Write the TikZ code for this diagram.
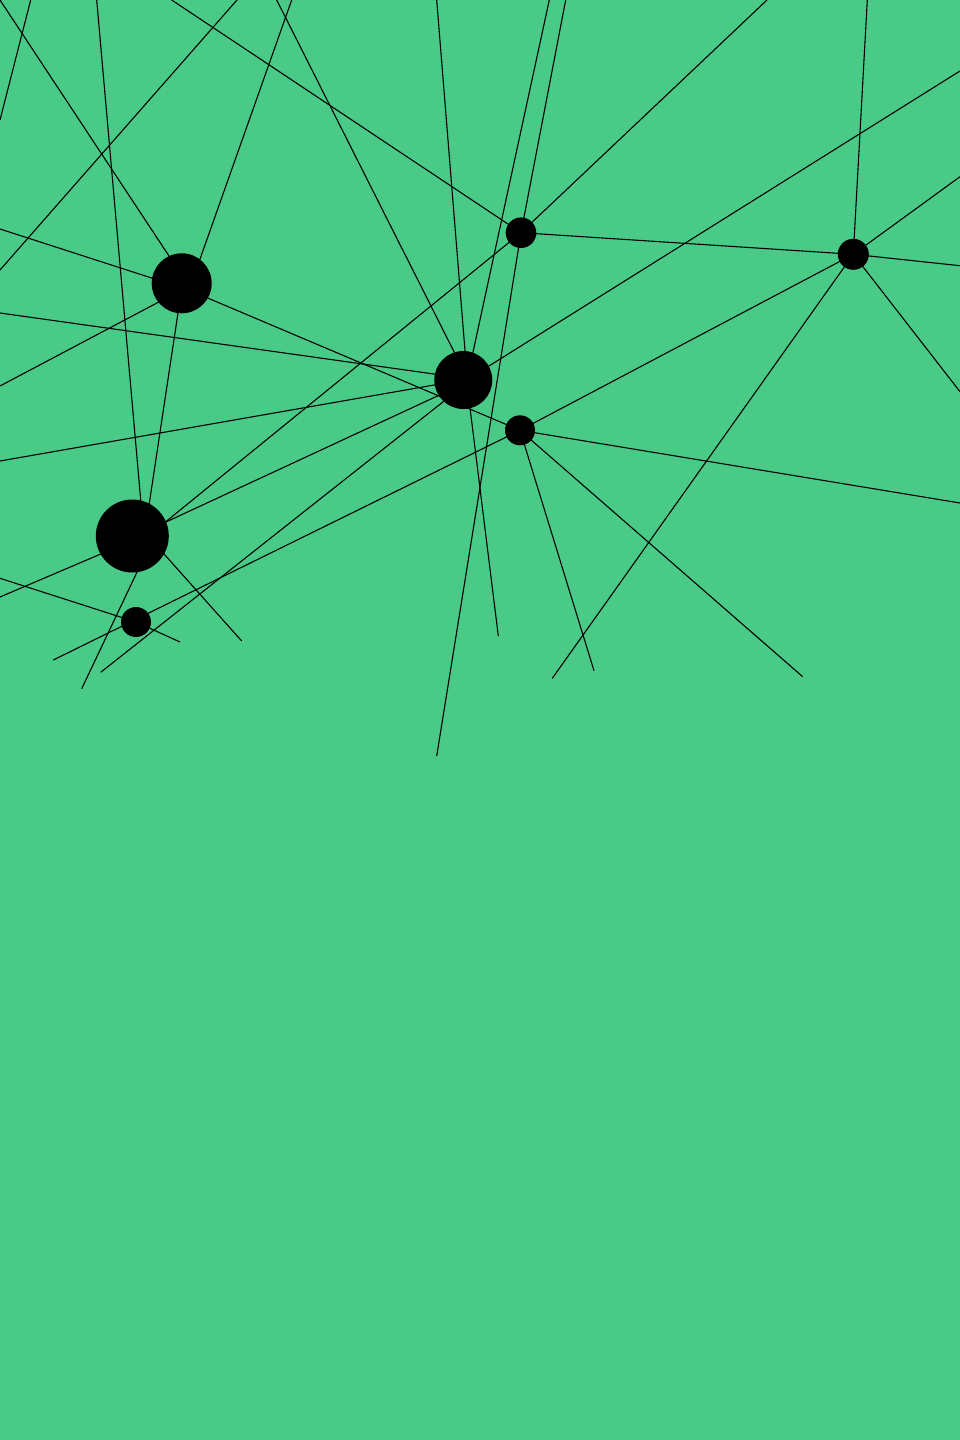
\documentclass[tikz,border=0pt]{standalone}
\definecolor{bg}{RGB}{74,202,135}
\tikzset{
  link/.style={draw=black, line width=1.1pt},
  hub/.style={circle, fill=black, inner sep=0pt, minimum size=#1},
}
\begin{document}
\begin{tikzpicture}[x=1pt,y=-1pt]
\fill[bg] (0,0) rectangle (960,1440);
\useasboundingbox (0,0) rectangle (960,1440);
% hub centres
\coordinate (a) at (181.7,283.3);
\coordinate (b) at (463.3,380);
\coordinate (c) at (521,232.7);
\coordinate (d) at (853.3,254.3);
\coordinate (e) at (520,430.3);
\coordinate (f) at (132.3,536);
\coordinate (g) at (136,622);
% attachment points inside the large hubs
\coordinate (a1) at (174.5,264.3);
\coordinate (a2) at (196.7,268.4);
\coordinate (a3) at (161.2,281.1);
\coordinate (a4) at (165.8,298.3);
\coordinate (a5) at (179.2,305);
\coordinate (a6) at (200.8,295.1);
\coordinate (b1) at (458.5,360.6);
\coordinate (b2) at (465.8,360.7);
\coordinate (b3) at (470.9,361.8);
\coordinate (b4) at (480.5,371.3);
\coordinate (b5) at (443.9,375.4);
\coordinate (b6) at (443.8,383.3);
\coordinate (b7) at (468.8,398.1);
\coordinate (b8) at (446.4,391.8);
\coordinate (b9) at (451.1,395.5);
\coordinate (f1) at (141.6,510);
\coordinate (f2) at (147.8,513.3);
\coordinate (f3) at (158.9,527.3);
\coordinate (f4) at (157.6,525.9);
\coordinate (f5) at (109.2,550.4);
\coordinate (f6) at (157.6,546.8);
\coordinate (f7) at (141,563.7);
% free ends
\coordinate (t1) at (30.7,0);   \coordinate (l1) at (0,120);
\coordinate (t2) at (0,0);
\coordinate (t3) at (96.7,0);
\coordinate (t4) at (237,0);    \coordinate (l4) at (0,270);
\coordinate (t5) at (291.7,0);
\coordinate (t6) at (171.7,0);
\coordinate (t7) at (276.7,0);
\coordinate (t8) at (436.7,0);
\coordinate (t9) at (549.3,0);
\coordinate (t10) at (565.7,0);
\coordinate (t11) at (767,0);
\coordinate (t12) at (867.3,0);
\coordinate (r1) at (960,71);
\coordinate (r2) at (960,176.7);
\coordinate (r3) at (960,265.7);
\coordinate (r4) at (960,391.7);
\coordinate (r5) at (960,503);
\coordinate (l2) at (0,229);
\coordinate (l3) at (0,313);
\coordinate (l5) at (0,386);
\coordinate (l6) at (0,461);
\coordinate (l7) at (0,578.3);
\coordinate (l8) at (0,597);
\coordinate (u1) at (552.3,678.3);
\coordinate (u2) at (802.7,676.7);
\coordinate (u3) at (594,670.7);
\coordinate (u4) at (498.3,636);
\coordinate (u5) at (100.7,672.3);
\coordinate (u6) at (53.3,660);
\coordinate (u7) at (241.7,641);
\coordinate (u8) at (81.7,688.7);
\coordinate (u9) at (180,642);
\coordinate (u10) at (436.7,756);
% connectors
\draw[link] (t1) -- (l1);
\draw[link] (t2) -- (a1);
\draw[link] (t3) -- (f1);
\draw[link] (t4) -- (l4);
\draw[link] (t5) -- (a2);
\draw[link] (t6) -- (c);
\draw[link] (t7) -- (b1);
\draw[link] (t8) -- (b2);
\draw[link] (t9) -- (b3);
\draw[link] (t10) -- (c);
\draw[link] (t11) -- (c);
\draw[link] (t12) -- (d);
\draw[link] (r1) -- (b4);
\draw[link] (r2) -- (d);
\draw[link] (r3) -- (d);
\draw[link] (r4) -- (d);
\draw[link] (c) -- (d);
\draw[link] (d) -- (e);
\draw[link] (d) -- (u1);
\draw[link] (e) -- (r5);
\draw[link] (e) -- (u2);
\draw[link] (e) -- (u3);
\draw[link] (a6) -- (e);
\draw[link] (b7) -- (u4);
\draw[link] (l3) -- (b5);
\draw[link] (l6) -- (b6);
\draw[link] (l2) -- (a3);
\draw[link] (l5) -- (a4);
\draw[link] (a5) -- (f2);
\draw[link] (c) -- (f3);
\draw[link] (b8) -- (f4);
\draw[link] (b9) -- (u5);
\draw[link] (e) -- (u6);
\draw[link] (f5) -- (l8);
\draw[link] (f6) -- (u7);
\draw[link] (f7) -- (u8);
\draw[link] (l7) -- (g);
\draw[link] (g) -- (u9);
\draw[link] (c) -- (u10);
% hubs
\node[hub=60pt] (na) at (a) {};
\node[hub=58pt] (nb) at (b) {};
\node[hub=30.6pt] (nc) at (c) {};
\node[hub=31pt] (nd) at (d) {};
\node[hub=30pt] (ne) at (e) {};
\node[hub=73pt] (nf) at (f) {};
\node[hub=30pt] (ng) at (g) {};
\end{tikzpicture}
\end{document}
